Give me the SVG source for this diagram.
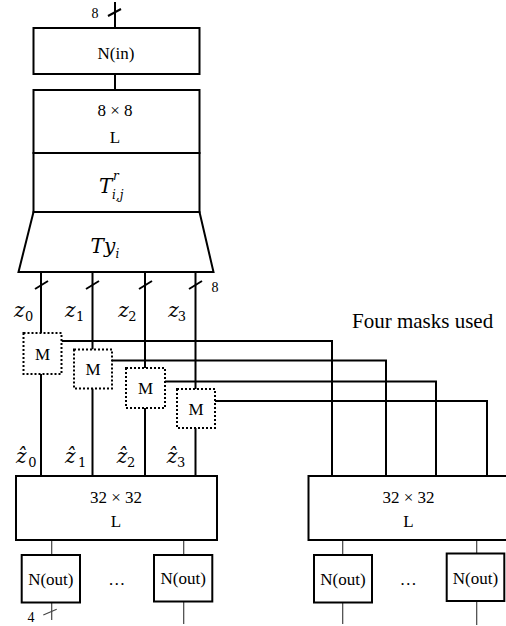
<svg xmlns="http://www.w3.org/2000/svg" width="506" height="626" viewBox="0 0 506 626">
<style>
.box{fill:#fff;stroke:#000;stroke-width:2}
.mbox{fill:#fff;stroke:#000;stroke-width:2;stroke-dasharray:2 2}
.w{fill:none;stroke:#000;stroke-width:2}
.thin{fill:none;stroke:#444;stroke-width:1.2}
.t{font-family:"Liberation Serif","Times New Roman",serif;font-size:17px;fill:#000;text-anchor:middle}
.lbl{font-family:"Liberation Serif","Times New Roman",serif;font-size:14px;fill:#000}
.m{font-family:"DejaVu Serif",serif;font-style:italic;font-size:20px;fill:#000}
.s{font-family:"DejaVu Serif",serif;font-size:13px;fill:#000}
.si{font-family:"DejaVu Serif",serif;font-style:italic;font-size:12px;fill:#000}
</style>
<g id="connectors">
<line class="w" x1="115" y1="2" x2="115" y2="28"/>
<line class="w" x1="108" y1="16" x2="121" y2="9"/>
<line class="w" x1="115" y1="74" x2="115" y2="90"/>
<path class="w" d="M41 272V333M41 374V476"/>
<path class="w" d="M92.5 272V349.5M92.5 388.5V476"/>
<path class="w" d="M145 272V368M145 408V476"/>
<path class="w" d="M195.5 272V389M195.5 428V476"/>
<path class="w" d="M35 289L48 281M86 289L99 281M139 289L152 281M189 289L202 281"/>
<path class="w" d="M61.5 341H332V476"/>
<path class="w" d="M112 360.5H386V476"/>
<path class="w" d="M165 381.5H436V476"/>
<path class="w" d="M215 401H487V476"/>
<path class="thin" d="M51.7 540V555M51.7 602.5V620M183.7 540V555M183.7 601.5V624M342.7 540V555M342.7 602.5V624M476.7 540V553.5M476.7 601V625"/>
<line class="thin" x1="43.3" y1="615" x2="56.7" y2="609.3"/>
</g>
<g id="labels">
<text class="lbl" x="95" y="18" text-anchor="middle">8</text>
<text class="lbl" x="215" y="292" text-anchor="middle">8</text>
<text class="lbl" x="31" y="621.5" text-anchor="middle" font-size="13">4</text>
<text x="352" y="328" font-family="Liberation Serif, Times New Roman, serif" font-size="21" fill="#000">Four masks used</text>
<text class="m" x="14" y="316.7">z</text><text class="s" x="25" y="320.5">0</text>
<text class="m" x="65" y="316.7">z</text><text class="s" x="76" y="320.5">1</text>
<text class="m" x="118.3" y="316.7">z</text><text class="s" x="128.3" y="320.5">2</text>
<text class="m" x="168.3" y="316.7">z</text><text class="s" x="177.7" y="320.5">3</text>
<text class="m" x="16" y="462.7">ẑ</text><text class="s" x="28.3" y="466.5">0</text>
<text class="m" x="65" y="462.7">ẑ</text><text class="s" x="78" y="466.5">1</text>
<text class="m" x="116.7" y="462.7">ẑ</text><text class="s" x="127" y="466.5">2</text>
<text class="m" x="166.7" y="462.7">ẑ</text><text class="s" x="177" y="466.5">3</text>
</g>
<g id="n-in">
<rect class="box" x="33.5" y="28" width="166" height="46"/>
<text class="t" x="116" y="59">N(in)</text>
</g>
<g id="l8">
<rect class="box" x="33.5" y="90" width="166" height="63"/>
<text class="t" x="115" y="116">8 × 8</text>
<text class="t" x="115" y="143">L</text>
</g>
<g id="t-rij">
<rect class="box" x="33.5" y="153" width="166" height="59"/>
<text class="m" x="99" y="193">T</text>
<text class="si" x="113" y="179.5">r</text>
<text class="si" x="112" y="199">i,j</text>
</g>
<g id="ty">
<polygon class="box" points="33.5,212 199.5,212 213.5,272 18.5,272"/>
<text class="m" x="90.5" y="253">T</text>
<text class="m" x="104" y="253">y</text>
<text class="si" x="115.5" y="258">i</text>
</g>
<g id="m0"><rect class="mbox" x="23.5" y="333" width="38" height="41"/><text class="t" x="42.5" y="359.5">M</text></g>
<g id="m1"><rect class="mbox" x="74" y="349.5" width="38" height="39"/><text class="t" x="93" y="375">M</text></g>
<g id="m2"><rect class="mbox" x="126" y="368" width="39" height="40"/><text class="t" x="145.5" y="394">M</text></g>
<g id="m3"><rect class="mbox" x="177" y="389" width="38" height="39"/><text class="t" x="196" y="414.5">M</text></g>
<g id="l32-left">
<rect class="box" x="16" y="476" width="201" height="64"/>
<text class="t" x="116" y="503">32 × 32</text>
<text class="t" x="116" y="527">L</text>
</g>
<g id="l32-right">
<rect class="box" x="308.5" y="476" width="200" height="64"/>
<text class="t" x="408.5" y="503">32 × 32</text>
<text class="t" x="408.5" y="527">L</text>
</g>
<g id="nout1"><rect class="box" x="21.7" y="555" width="58.3" height="47.5"/><text class="t" x="50.8" y="585">N(out)</text></g>
<text class="t" x="116.7" y="585">…</text>
<g id="nout2"><rect class="box" x="154" y="555" width="58.3" height="46.5"/><text class="t" x="183.2" y="584">N(out)</text></g>
<g id="nout3"><rect class="box" x="314" y="555" width="58" height="47.5"/><text class="t" x="343" y="585">N(out)</text></g>
<text class="t" x="408.3" y="585">…</text>
<g id="nout4"><rect class="box" x="446.7" y="553.5" width="57.6" height="47.5"/><text class="t" x="475.5" y="583.5">N(out)</text></g>
</svg>
